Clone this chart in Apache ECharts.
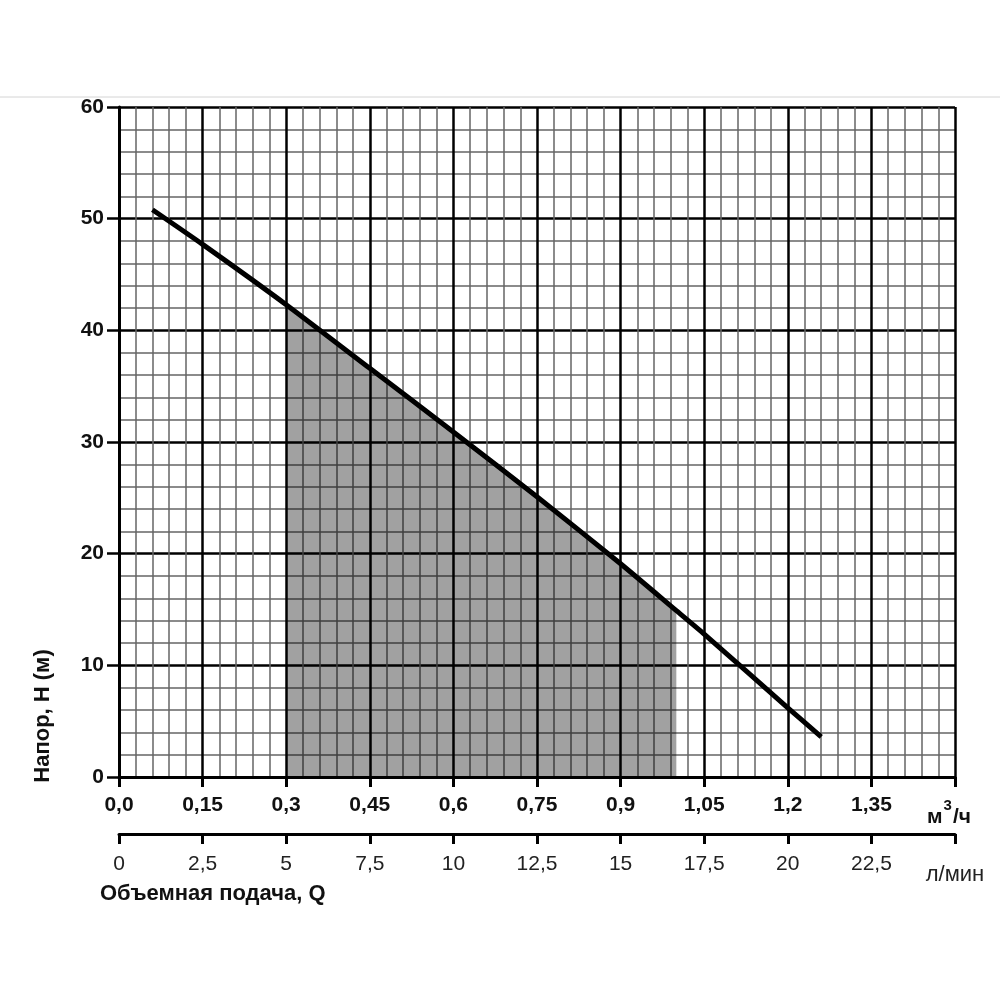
<!DOCTYPE html>
<html>
<head>
<meta charset="utf-8">
<script src="https://cdn.jsdelivr.net/npm/echarts@6/dist/echarts.min.js"></script>
<style>
  html, body { margin: 0; padding: 0; background: #fff; }
  #chart { width: 1000px; height: 1000px; }
</style>
</head>
<body>
<div id="chart"></div>
<script>
// Характеристика насоса: подача (м3/ч) и напор (м)
const flow = [0.06, 0.15, 0.3, 0.45, 0.6, 0.75, 0.9, 1.0, 1.05, 1.2, 1.26];
const head = [50.8, 47.7, 42.3, 36.6, 30.9, 25.1, 19.1, 14.9, 12.8, 6.2, 3.6];
// рабочая зона (закрашенная)
const zoneFlow = [0.3, 0.45, 0.6, 0.75, 0.9, 1.0];
const zoneHead = [42.3, 36.6, 30.9, 25.1, 19.1, 14.9];
// подписи
const yTicks = [0, 10, 20, 30, 40, 50, 60];
const yTitle = "Напор, Н (м)";
const xTitle = "Объемная подача, Q";
const lminUnit = "л/мин";

const chart = echarts.init(document.getElementById("chart"));
const font = "Liberation Sans, Arial, sans-serif";

const fmtComma = (v) => {
  let r = Math.round(v * 100) / 100;
  return String(r).replace(".", ",");
};

const option = {
  animation: false,
  backgroundColor: "#fff",
  grid: { left: 119, right: 45, top: 107, bottom: 223 },
  graphic: [
    {
      type: "line",
      shape: { x1: 0, y1: 97, x2: 1000, y2: 97 },
      style: { stroke: "#d4d4d4", lineWidth: 1 },
    },
    {
      type: "text",
      x: 43,
      y: 716,
      rotation: Math.PI / 2,
      style: {
        text: yTitle,
        font: "bold 22px " + font,
        fill: "#111",
        align: "center",
        verticalAlign: "middle",
      },
    },
    {
      type: "text",
      x: 100,
      y: 894,
      style: {
        text: xTitle,
        font: "bold 22px " + font,
        fill: "#111",
        align: "left",
        verticalAlign: "middle",
      },
    },
  ],
  xAxis: [
    {
      type: "value",
      min: 0,
      max: 1.5,
      interval: 0.15,
      axisLine: { show: true, onZero: false, lineStyle: { color: "#000", width: 3 } },
      axisTick: { show: true, length: 10, lineStyle: { color: "#000", width: 3 } },
      axisLabel: {
        margin: 18,
        color: "#111",
        fontFamily: font,
        fontWeight: "bold",
        fontSize: 21,
        formatter: (v) => {
          if (v === 0) return "0,0";
          if (Math.abs(v - 1.5) < 1e-6) return "{u|м}{s|3}{v|/ч}";
          return fmtComma(v);
        },
        rich: {
          u: { fontFamily: font, fontWeight: "bold", fontSize: 21, color: "#111", padding: [12, 0, 0, 0] },
          v: { fontFamily: font, fontWeight: "bold", fontSize: 21, color: "#111", padding: [12, 12, 0, 0] },
          s: { fontFamily: font, fontWeight: "bold", fontSize: 15, color: "#111", padding: [0, 1, 12, 1] },
        },
      },
      splitLine: { show: true, lineStyle: { color: "#000", width: 2.5 } },
      minorTick: { show: false, splitNumber: 5 },
      minorSplitLine: { show: true, lineStyle: { color: "#666", width: 1.5 } },
    },
    {
      type: "value",
      position: "bottom",
      offset: 57,
      min: 0,
      max: 25,
      interval: 2.5,
      axisLine: { show: true, onZero: false, lineStyle: { color: "#000", width: 3 } },
      axisTick: { show: true, length: 10, lineStyle: { color: "#000", width: 3 } },
      axisLabel: {
        margin: 20,
        color: "#222",
        fontFamily: font,
        fontSize: 21,
        formatter: (v) => {
          if (Math.abs(v - 25) < 1e-6) return "{u|" + lminUnit + "}";
          return fmtComma(v);
        },
        rich: {
          u: { fontFamily: font, fontSize: 22, color: "#222", padding: [10, 0, 0, 0] },
        },
      },
      splitLine: { show: false },
    },
  ],
  yAxis: {
    type: "value",
    min: yTicks[0],
    max: yTicks[yTicks.length - 1],
    interval: 10,
    axisLine: { show: true, lineStyle: { color: "#000", width: 3 } },
    axisTick: { show: true, length: 12, lineStyle: { color: "#000", width: 2.5 } },
    axisLabel: {
      margin: 15,
      color: "#111",
      fontFamily: font,
      fontWeight: "bold",
      fontSize: 21,
    },
    splitLine: { show: true, lineStyle: { color: "#000", width: 2.5 } },
    minorTick: { show: false, splitNumber: 5 },
    minorSplitLine: { show: true, lineStyle: { color: "#666", width: 1.5 } },
  },
  series: [
    {
      type: "line",
      xAxisIndex: 0,
      data: zoneFlow.map((q, i) => [q, zoneHead[i]]),
      symbol: "none",
      lineStyle: { width: 0 },
      areaStyle: { color: "rgba(0,0,0,0.37)", opacity: 1, origin: "start" },
      z: 1,
    },
    {
      type: "line",
      xAxisIndex: 0,
      data: flow.map((q, i) => [q, head[i]]),
      symbol: "none",
      smooth: 0.2,
      lineStyle: { color: "#000", width: 5 },
      z: 3,
    },
  ],
};
chart.setOption(option);
</script>
</body>
</html>
